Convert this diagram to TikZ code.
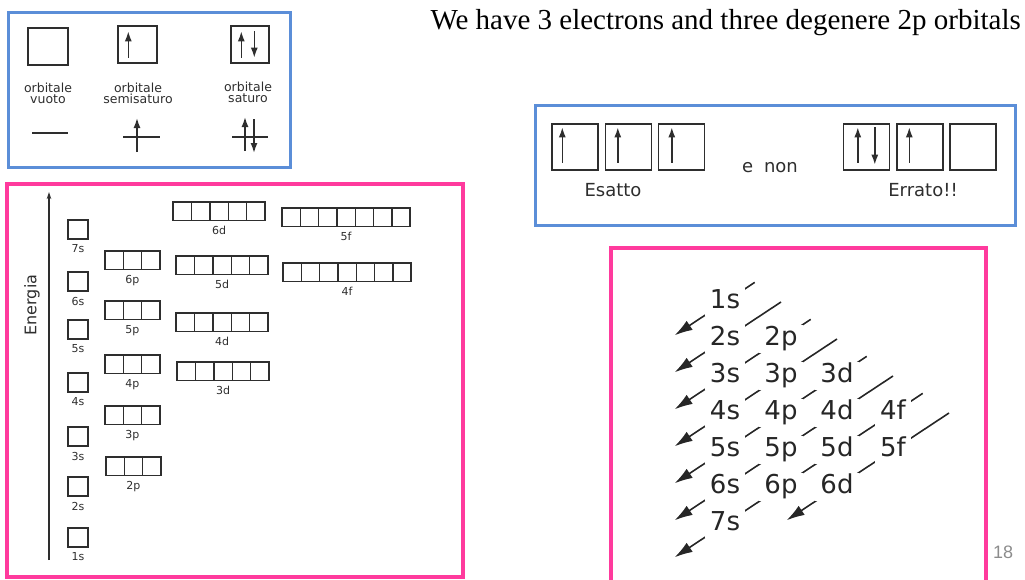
\documentclass[tikz,border=0pt]{standalone}
\usepackage{fontspec}
\setmainfont{Liberation Serif}
\newfontfamily\labelfont{DejaVu Sans}
\newfontfamily\pagefont{Liberation Sans}
\usetikzlibrary{arrows.meta,calc,backgrounds}
\definecolor{frameblue}{HTML}{5B8ED8}
\definecolor{framepink}{HTML}{FF3A9D}
\definecolor{inkgray}{HTML}{2E2E2E}
\tikzset{
  bluebox/.style={draw=frameblue,line width=3pt},
  pinkbox/.style={draw=framepink,line width=3.5pt},
  cell/.style={draw=inkgray,line width=1.4pt,inner sep=0pt,minimum width=18.3pt,minimum height=18.5pt},
  spin/.style={draw=inkgray,line width=1.5pt,-{Latex[length=10pt,width=7pt]}},
  toplbl/.style={font=\labelfont\fontsize{12.5}{11}\selectfont,text=inkgray,align=center,inner sep=0pt},
  boxtxt/.style={font=\labelfont\fontsize{18}{18}\selectfont,text=inkgray,inner sep=0pt},
  sublbl/.style={font=\labelfont\fontsize{11}{11}\selectfont,text=inkgray,anchor=north,inner sep=0pt,yshift=-5pt},
  shell/.style={font=\labelfont\fontsize{26}{26}\selectfont,text=black!85,fill=white,
    text height=18pt,text depth=6pt,inner xsep=5pt,inner ysep=2pt},
  diag/.style={draw=black!85,line width=1.6pt,-{Latex[length=18pt,width=11pt]}},
}

\begin{document}
\begin{tikzpicture}[x=1pt,y=-1pt]
  \useasboundingbox (0,0) rectangle (1025,579);
  \node[font=\fontsize{29}{29}\selectfont,anchor=base east,inner sep=0pt] (title) at (1021,29)
    {We have 3 electrons and three degenere 2p orbitals};
  \node[font=\pagefont\fontsize{18}{18}\selectfont,text=black!45] (pagenum) at (1003,552) {18};
  % legend of the symbols
  \draw[bluebox] (8,12) rectangle (290,167);
  \node[cell,minimum width=40pt,minimum height=37pt] (empty) at (48,46.5) {};
  \node[cell,minimum width=39pt,minimum height=37pt] (half) at (137.5,44.5) {};
  \node[cell,minimum width=38pt,minimum height=37pt] (full) at (250,44.5) {};
  \draw[spin] ([xshift=11pt,yshift=6pt]half.south west) -- ([xshift=11pt,yshift=-6pt]half.north west);
  \draw[spin] ([xshift=11pt,yshift=6pt]full.south west) -- ([xshift=11pt,yshift=-6pt]full.north west);
  \draw[spin] ([xshift=24pt,yshift=-6pt]full.north west) -- ([xshift=24pt,yshift=6pt]full.south west);
  \node[toplbl] (emptylbl) at (48,93.5) {orbitale\\vuoto};
  \node[toplbl] (halflbl) at (138,93.5) {orbitale\\semisaturo};
  \node[toplbl] (fulllbl) at (248,92) {orbitale\\saturo};
  \draw[inkgray,line width=2.2pt] (32,133) -- (68,133);
  \draw[inkgray,line width=2.2pt] (123,137) -- (160,137);
  \draw[spin] (137,152) -- (137,118);
  \draw[inkgray,line width=2.2pt] (232,137) -- (268,137);
  \draw[spin] (245,151) -- (245,117);
  \draw[spin] (254,119) -- (254,153);
  % Hund: right and wrong filling of 2p
  \draw[bluebox] (535,105) rectangle (1015,225);
  \foreach \nm/\x in {ok1/575,ok2/628.5,ok3/681.5,ko1/866.5,ko2/920,ko3/973}
    \node[cell,minimum width=46pt,minimum height=46pt] (\nm) at (\x,147) {};
  \foreach \nm/\dx in {ok1/11,ok2/13,ok3/14,ko1/15,ko2/13}
    \draw[spin] ([xshift=\dx pt,yshift=8pt]\nm.south west) -- ([xshift=\dx pt,yshift=-4pt]\nm.north west);
  \draw[spin] ([xshift=32pt,yshift=-4pt]ko1.north west) -- ([xshift=32pt,yshift=6pt]ko1.south west);
  \node[boxtxt] (oklbl) at (613,190) {Esatto};
  \node[boxtxt] (andnot) at (770,168) {e\hspace{0.6em}non};
  \node[boxtxt] (kolbl) at (923,190) {Errato!!};
  % energy levels
  \draw[pinkbox] (7,184) rectangle (463,577);
  \coordinate (ebot) at (49,560);
  \coordinate (etop) at (49,192);
  \draw[inkgray,line width=1.3pt,-{Stealth[length=7pt,width=4.5pt]}] (ebot) -- (etop);
  \node[font=\labelfont\fontsize{16}{16}\selectfont,text=inkgray,rotate=90] (energia) at (32,305) {Energia};
  \foreach \nm/\n/\w/\h/\x/\y in {
      1s/1/20/19/68/528, 2s/1/20/19/68/477, 3s/1/20/19/68/427, 4s/1/20/19/68/373,
      5s/1/20/19/68/320, 6s/1/20/19/68/272, 7s/1/20/19/68/220,
      2p/3/18.3/18.5/106/457, 3p/3/18.3/18.5/105/406, 4p/3/18.3/18.5/105/355,
      5p/3/18.3/18.5/105/301, 6p/3/18.3/18.5/105/251,
      3d/5/18.4/18.5/177/362, 4d/5/18.4/18.5/176/313, 5d/5/18.4/18.5/176/256, 6d/5/18.4/18.5/173/202,
      4f/7/18.3/18.5/283/263, 5f/7/18.3/18.5/282/208} {
    \foreach \k in {1,...,\n}
      \node[cell,minimum width=\w pt,minimum height=\h pt] (c\nm-\k) at ({\x+(\k-0.5)*\w},{\y+\h/2}) {};
    \node[sublbl] (l\nm) at ($(c\nm-1.south west)!0.5!(c\nm-\n.south east)$) {\nm};
  }
  % filling order
  \draw[pinkbox] (611,248) rectangle (986,600);
  \foreach \nm/\l/\n in {1s/0/1,2s/0/2,2p/1/2,3s/0/3,3p/1/3,3d/2/3,4s/0/4,4p/1/4,4d/2/4,4f/3/4,
      5s/0/5,5p/1/5,5d/2/5,5f/3/5,6s/0/6,6p/1/6,6d/2/6,7s/0/7}
    \node[shell] (o\nm) at ({725+56*\l},{302+37*(\n-1)}) {\nm};
  \begin{scope}[on background layer]
    \foreach \a/\b/\t in {1s/1s/0.53,2s/2s/1,2p/3s/0.53,3p/4s/1,3d/5s/0.53,4d/6s/1,4f/7s/0.53,5f/6d/1} {
      \coordinate (from\a) at ($(o\a)+\t*(56,-37)$);
      \coordinate (to\b) at ($(o\b)+0.9*(-56,37)$);
      \draw[diag] (from\a) -- (to\b);
    }
  \end{scope}
\end{tikzpicture}
\end{document}
